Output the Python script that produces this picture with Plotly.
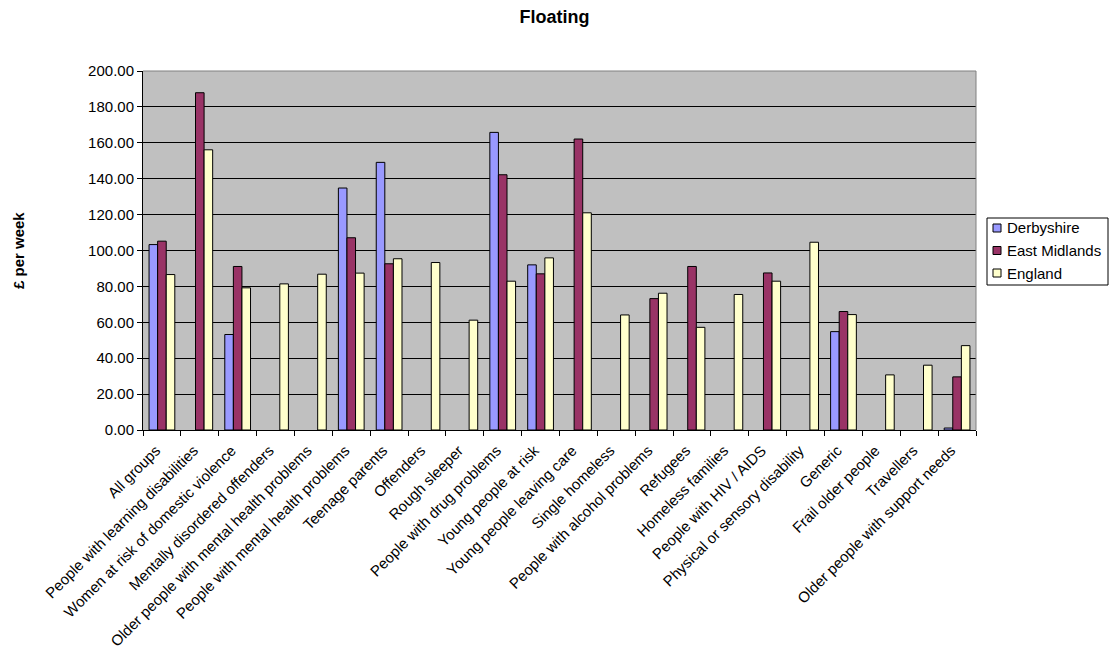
import plotly.graph_objects as go

# Weekly floating-support cost by client group
categories = [
    "All groups",
    "People with learning disabilities",
    "Women at risk of domestic violence",
    "Mentally disordered offenders",
    "Older people with mental health problems",
    "People with mental health problems",
    "Teenage parents",
    "Offenders",
    "Rough sleeper",
    "People with drug problems",
    "Young people at risk",
    "Young people leaving care",
    "Single homeless",
    "People with alcohol problems",
    "Refugees",
    "Homeless families",
    "People with HIV / AIDS",
    "Physical or sensory disability",
    "Generic",
    "Frail older people",
    "Travellers",
    "Older people with support needs",
]

derbyshire = [103.3, None, 53.2, None, None, 134.8, 149.1, None, None, 165.8, 92.0,
              None, None, None, None, None, None, None, 54.8, None, None, 1.1]
east_midlands = [105.2, 187.9, 91.1, None, None, 107.1, 92.6, None, None, 142.2, 87.0,
                 162.1, None, 73.2, 91.1, None, 87.5, None, 66.0, None, None, 29.6]
england = [86.6, 156.1, 79.2, 81.4, 86.8, 87.4, 95.4, 93.3, 61.2, 82.9, 95.9,
           121.0, 64.1, 76.2, 57.2, 75.5, 82.9, 104.6, 64.3, 30.7, 36.1, 47.0]

series_names = ["Derbyshire", "East Midlands", "England"]
series_values = [derbyshire, east_midlands, england]
series_colors = ["#9999FF", "#993366", "#FFFFCC"]

FONT = "Liberation Sans, Arial, sans-serif"
W, H = 1109, 657
ML, MR, MT, MB = 143, 133, 71, 227
PW, PH = W - ML - MR, H - MT - MB


def px_x(x):
    """Pixel column -> paper x."""
    return (x - ML) / PW


def px_y(y):
    """Pixel row -> paper y."""
    return (H - MB - y) / PH


fig = go.Figure()
for name, vals, color in zip(series_names, series_values, series_colors):
    fig.add_trace(go.Bar(
        x=categories, y=vals, name=name,
        marker=dict(color=color, line=dict(color="black", width=1)),
    ))

fig.update_layout(
    width=W, height=H,
    margin=dict(l=ML, r=MR, t=MT, b=MB, autoexpand=False),
    paper_bgcolor="white",
    plot_bgcolor="#C0C0C0",
    barmode="group",
    bargap=0.32,
    bargroupgap=0,
    font=dict(family=FONT, size=15, color="black"),
    title=dict(text="<b>Floating</b>", x=0.5, xanchor="center",
               y=1 - 17 / H, yanchor="middle",
               font=dict(family=FONT, size=18, color="black")),
    showlegend=False,
)

fig.update_xaxes(
    type="category",
    tickangle=-45,
    tickfont=dict(family=FONT, size=15, color="black"),
    showline=True, linecolor="black", linewidth=1,
    ticks="outside", ticklen=5, tickcolor="black",
    tickson="boundaries",
    ticklabelshift=-6, ticklabelstandoff=5,
    showgrid=False,
    range=[-0.5, len(categories) - 0.5],
)

fig.update_yaxes(
    range=[0, 200], dtick=20, tickformat=".2f",
    tickfont=dict(family=FONT, size=15, color="black"),
    showline=True, linecolor="black", linewidth=1,
    ticks="outside", ticklen=5, tickcolor="black",
    showgrid=True, gridcolor="black", gridwidth=1,
    zeroline=False,
)

# grey plot-area border on the top and right
fig.add_shape(type="line", xref="paper", yref="paper", x0=0, x1=1, y0=1, y1=1,
              line=dict(color="#808080", width=1))
fig.add_shape(type="line", xref="paper", yref="paper", x0=1, x1=1, y0=0, y1=1,
              line=dict(color="#808080", width=1))

# y-axis title
fig.add_annotation(
    text="<b>£ per week</b>", xref="paper", yref="paper",
    x=px_x(18), y=px_y(251), xanchor="center", yanchor="middle",
    textangle=-90, showarrow=False,
    font=dict(family=FONT, size=15, color="black"),
)

# legend box with square swatches
fig.add_shape(type="rect", xref="paper", yref="paper",
              x0=px_x(987), x1=px_x(1108), y0=px_y(285), y1=px_y(218),
              line=dict(color="black", width=1), fillcolor="white", layer="above")
for i, (name, color) in enumerate(zip(series_names, series_colors)):
    cy = 228 + 22.5 * i
    fig.add_shape(type="rect", xref="paper", yref="paper",
                  x0=px_x(993), x1=px_x(1001), y0=px_y(cy + 4), y1=px_y(cy - 4),
                  line=dict(color="black", width=1), fillcolor=color, layer="above")
    fig.add_annotation(
        text=name, xref="paper", yref="paper",
        x=px_x(1005), y=px_y(cy), xanchor="left", yanchor="middle",
        showarrow=False, font=dict(family=FONT, size=15, color="black"),
    )

fig.write_html("out.html")
